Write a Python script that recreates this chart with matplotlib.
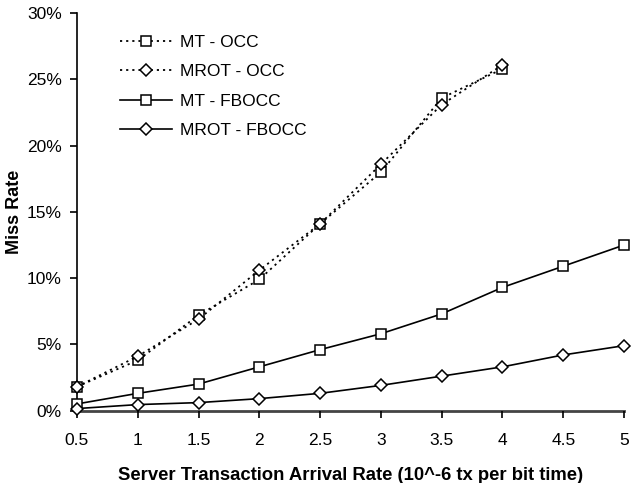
import matplotlib
matplotlib.use("Agg")
import matplotlib.pyplot as plt
from matplotlib.ticker import FuncFormatter

plt.rcParams["font.family"] = ["Liberation Sans", "DejaVu Sans"]

# arrival rate (10^-6 tx per bit time)
rate = [0.5, 1, 1.5, 2, 2.5, 3, 3.5, 4, 4.5, 5]
rate_occ = [0.5, 1, 1.5, 2, 2.5, 3, 3.5, 4]
rate_labels = ["0.5", "1", "1.5", "2", "2.5", "3", "3.5", "4", "4.5", "5"]

# miss rates in percent
mt_occ = [1.8, 3.8, 7.2, 9.9, 14.1, 18.0, 23.6, 25.8]
mrot_occ = [1.8, 4.1, 6.9, 10.6, 14.1, 18.6, 23.1, 26.1]
mt_fbocc = [0.5, 1.3, 2.0, 3.3, 4.6, 5.8, 7.3, 9.3, 10.9, 12.5]
mrot_fbocc = [0.15, 0.45, 0.6, 0.9, 1.3, 1.9, 2.6, 3.3, 4.2, 4.9]

fig = plt.figure(figsize=(6.31, 4.83), dpi=100)
ax = fig.add_axes([0.122, 0.150, 0.867, 0.8225])

dotted = (0, (1.2, 2.2))
sq = dict(marker="s", markersize=7.2, markerfacecolor="white",
          markeredgecolor="black", markeredgewidth=1.1, color="black",
          clip_on=False)
dm = dict(sq, marker="D", markersize=6)

ax.plot(rate_occ, mt_occ, linestyle=dotted, linewidth=1.3, label="MT - OCC", **sq)
ax.plot(rate_occ, mrot_occ, linestyle=dotted, linewidth=1.3, label="MROT - OCC", **dm)
ax.plot(rate, mt_fbocc, linestyle="-", linewidth=1.2, label="MT - FBOCC", **sq)
ax.plot(rate, mrot_fbocc, linestyle="-", linewidth=1.2, label="MROT - FBOCC", **dm)

ax.set_xlim(0.5, 5)
ax.set_ylim(0, 30)
ax.set_xticks(rate)
ax.set_xticklabels(rate_labels)
ax.set_yticks(range(0, 31, 5))
ax.yaxis.set_major_formatter(FuncFormatter(lambda v, p: f"{int(v)}%"))
ax.tick_params(axis="both", direction="out", length=5, width=1.2, labelsize=12.5)
ax.tick_params(axis="x", pad=11)
ax.tick_params(axis="y", pad=6)

for s in ("top", "right"):
    ax.spines[s].set_visible(False)
ax.spines["left"].set_linewidth(1.2)
ax.spines["bottom"].set_linewidth(2)
ax.spines["bottom"].set_color("#444444")
ax.spines["left"].set_zorder(0)
ax.spines["bottom"].set_zorder(0)

ax.set_xlabel("Server Transaction Arrival Rate (10^-6 tx per bit time)",
              fontsize=13.3, fontweight="bold", labelpad=14)
ax.set_ylabel("Miss Rate", fontsize=13, fontweight="bold", labelpad=3)

ax.legend(loc="upper left", bbox_to_anchor=(0.05, 0.985), frameon=False,
          fontsize=12.5, handlelength=3.0, handletextpad=0.45,
          labelspacing=0.82)

fig.savefig("out.png", dpi=100)
